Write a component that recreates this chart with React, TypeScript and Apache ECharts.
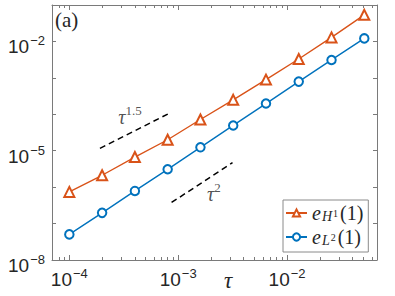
import React, { useEffect, useRef } from 'react';
import * as echarts from 'echarts';

// ---- data ----
const tau = [1e-4, 2e-4, 4e-4, 8e-4, 1.6e-3, 3.2e-3, 6.4e-3, 1.28e-2, 2.56e-2, 5.12e-2];
const errH1 = [7.4e-7, 2.12e-6, 6.7e-6, 2.0e-5, 7.2e-5, 2.49e-4, 8.95e-4, 3.3e-3, 1.29e-2, 5.37e-2];
const errL2 = [5.05e-8, 1.97e-7, 7.87e-7, 3.09e-6, 1.24e-5, 4.94e-5, 1.97e-4, 7.89e-4, 3.1e-3, 1.21e-2];

const ref15X = [1.91e-4, 8.05e-4];
const ref15Y = [1.16e-5, 1.02e-4];
const ref2X = [8.69e-4, 3.155e-3];
const ref2Y = [3.79e-7, 4.71e-6];

const annotX = [3.61e-4, 2.13e-3];
const annotY = [1.05e-4, 7.72e-7];
const annotExp = ['1.5', '2'];

const xRange = [6.93e-5, 6.7e-2];
const yRange = [1e-8, 1e-1];
const xMajorTicks = [1e-4, 1e-3, 1e-2];
const xMinorTicks = [
  7e-5, 8e-5, 9e-5,
  2e-4, 3e-4, 4e-4, 5e-4, 6e-4, 7e-4, 8e-4, 9e-4,
  2e-3, 3e-3, 4e-3, 5e-3, 6e-3, 7e-3, 8e-3, 9e-3,
  2e-2, 3e-2, 4e-2, 5e-2, 6e-2,
];
const yTicks = [1e-8, 1e-7, 1e-6, 1e-5, 1e-4, 1e-3, 1e-2, 1e-1];
const yLabelTicks = [1e-8, 1e-5, 1e-2];

const seriesNames = ['eH1', 'eL2'];
const legendRich: Record<string, string> = {
  eH1: '{e|e}{sub|H}{sup|1}{p|(1)}',
  eL2: '{e|e}{sub|L}{sup|2}{p|(1)}',
};

const lg = (v: number) => Math.log10(v);

const ORANGE = '#D95319';
const BLUE = '#0072BD';
const AXIS = '#7a7a7a';
const TEXT = '#262626';
const SANS = 'Liberation Sans';
const SERIF = 'Liberation Serif';

const powRich = {
  a: { fontSize: 19, fontFamily: SANS, color: TEXT, lineHeight: 19, padding: [6, 0, 0, 0] },
  b: { fontSize: 13, fontFamily: SANS, color: TEXT, lineHeight: 13, verticalAlign: 'top', padding: [0, 0, 0, 1] },
};
const powFmt = (v: number) => {
  const e = Math.round(v);
  return `{a|10}{b|${e < 0 ? '\u2212' + Math.abs(e) : e}}`;
};

export default function App() {
  const ref = useRef<HTMLDivElement>(null);
  useEffect(() => {
    if (!ref.current) return;
    const chart = echarts.init(ref.current, undefined, { renderer: 'svg' });
    const xl = xRange.map(lg);
    const yl = yRange.map(lg);
    const axLine = { show: true, lineStyle: { color: AXIS, width: 1 } };
    const tickStyle = { color: AXIS, width: 1 };
    const gridBox = { left: 52, right: 18, top: 5, bottom: 36 };

    chart.setOption({
      animation: false,
      backgroundColor: '#fff',
      textStyle: { fontFamily: SANS },
      grid: [{ ...gridBox }, { ...gridBox }],
      xAxis: [
        {
          gridIndex: 0, type: 'value', position: 'bottom', min: xl[0], max: xl[1],
          axisLine: axLine,
          axisTick: { show: true, inside: true, length: 5, customValues: xMajorTicks.map(lg), lineStyle: tickStyle },
          axisLabel: { show: true, customValues: xMajorTicks.map(lg), margin: 7, formatter: powFmt, rich: powRich, fontFamily: SANS, fontSize: 19, color: TEXT },
          splitLine: { show: false },
        },
        {
          gridIndex: 0, type: 'value', position: 'top', min: xl[0], max: xl[1],
          axisLine: axLine,
          axisTick: { show: true, inside: true, length: 5, customValues: xMajorTicks.map(lg), lineStyle: tickStyle },
          axisLabel: { show: false },
          splitLine: { show: false },
        },
        {
          gridIndex: 1, type: 'value', position: 'bottom', min: xl[0], max: xl[1],
          axisLine: { show: false },
          axisTick: { show: true, inside: true, length: 3, customValues: xMinorTicks.map(lg), lineStyle: tickStyle },
          axisLabel: { show: false },
          splitLine: { show: false },
        },
        {
          gridIndex: 1, type: 'value', position: 'top', min: xl[0], max: xl[1],
          axisLine: { show: false },
          axisTick: { show: true, inside: true, length: 3, customValues: xMinorTicks.map(lg), lineStyle: tickStyle },
          axisLabel: { show: false },
          splitLine: { show: false },
        },
      ],
      yAxis: [
        {
          gridIndex: 0, type: 'value', position: 'left', min: yl[0], max: yl[1], interval: 1,
          axisLine: axLine,
          axisTick: { show: true, inside: true, length: 4, customValues: yTicks.map(lg), lineStyle: tickStyle },
          axisLabel: { show: true, customValues: yLabelTicks.map(lg), margin: 7, formatter: powFmt, rich: powRich, fontFamily: SANS, fontSize: 19, color: TEXT, padding: [5, 0, 0, 0] },
          splitLine: { show: false },
        },
        {
          gridIndex: 0, type: 'value', position: 'right', min: yl[0], max: yl[1], interval: 1,
          axisLine: axLine,
          axisTick: { show: true, inside: true, length: 4, customValues: yTicks.map(lg), lineStyle: tickStyle },
          axisLabel: { show: false },
          splitLine: { show: false },
        },
        {
          gridIndex: 1, type: 'value', show: false, min: yl[0], max: yl[1], interval: 1,
        },
      ],
      legend: {
        data: seriesNames,
        orient: 'vertical',
        left: 283,
        top: 200,
        padding: [3, 5, 5, 2],
        itemGap: 4,
        itemWidth: 21,
        itemHeight: 9,
        backgroundColor: '#fff',
        borderColor: '#8a8a8a',
        borderWidth: 1,
        borderRadius: 0,
        formatter: (name: string) => legendRich[name],
        textStyle: {
          color: TEXT,
          fontFamily: SERIF,
          fontSize: 19,
          rich: {
            e: { fontFamily: SERIF, fontStyle: 'italic', fontSize: 20, lineHeight: 20, padding: [0, 1, 0, 0] },
            sub: { fontFamily: SERIF, fontStyle: 'italic', fontSize: 14, lineHeight: 13, verticalAlign: 'bottom' },
            sup: { fontFamily: SERIF, fontSize: 10, lineHeight: 10, verticalAlign: 'middle', padding: [0, 2, 0, 1] },
            p: { fontFamily: SERIF, fontSize: 20, lineHeight: 20 },
          },
        },
      },
      graphic: [
        { type: 'text', left: 55, top: 9, style: { text: '(a)', fontFamily: SERIF, fontSize: 21, fill: TEXT } },
        { type: 'text', left: 224, top: 269, style: { text: 'τ', fontFamily: SERIF, fontStyle: 'italic', fontSize: 23, fill: TEXT } },
      ],
      series: [
        {
          name: seriesNames[0], type: 'line', xAxisIndex: 0, yAxisIndex: 0,
          data: tau.map((t, i) => [lg(t), lg(errH1[i])]),
          symbol: 'emptyTriangle', symbolSize: 10,
          lineStyle: { color: ORANGE, width: 1.4 },
          itemStyle: { color: ORANGE, borderWidth: 1.3 },
          z: 3,
        },
        {
          name: seriesNames[1], type: 'line', xAxisIndex: 0, yAxisIndex: 0,
          data: tau.map((t, i) => [lg(t), lg(errL2[i])]),
          symbol: 'emptyCircle', symbolSize: 8.5,
          lineStyle: { color: BLUE, width: 1.4 },
          itemStyle: { color: BLUE, borderWidth: 1.3 },
          z: 3,
        },
        {
          name: 'ref15', type: 'line', xAxisIndex: 0, yAxisIndex: 0,
          data: ref15X.map((x, i) => [lg(x), lg(ref15Y[i])]),
          symbol: 'none', lineStyle: { color: '#000', width: 1.5, type: [6, 4] },
        },
        {
          name: 'ref2', type: 'line', xAxisIndex: 0, yAxisIndex: 0,
          data: ref2X.map((x, i) => [lg(x), lg(ref2Y[i])]),
          symbol: 'none', lineStyle: { color: '#000', width: 1.5, type: [6, 4] },
        },
        {
          name: 'annot', type: 'scatter', xAxisIndex: 0, yAxisIndex: 0,
          data: annotX.map((x, i) => ({ value: [lg(x), lg(annotY[i])] })),
          symbolSize: 0.1,
          itemStyle: { color: 'transparent' },
          label: {
            show: true, position: 'inside',
            fontFamily: SERIF, fontSize: 20, color: TEXT,
            formatter: (p: any) => `{t|τ}{s|${annotExp[p.dataIndex]}}`,
            rich: {
              t: { fontFamily: SERIF, fontStyle: 'italic', fontSize: 20, lineHeight: 20, color: TEXT, padding: [6, 0, 0, 0] },
              s: { fontFamily: SERIF, fontSize: 13, lineHeight: 13, color: TEXT, verticalAlign: 'top' },
            },
          },
        },
      ],
    });
    return () => chart.dispose();
  }, []);
  return <div ref={ref} style={{ position: 'absolute', left: 0, top: 0, width: 395, height: 296 }} />;
}
